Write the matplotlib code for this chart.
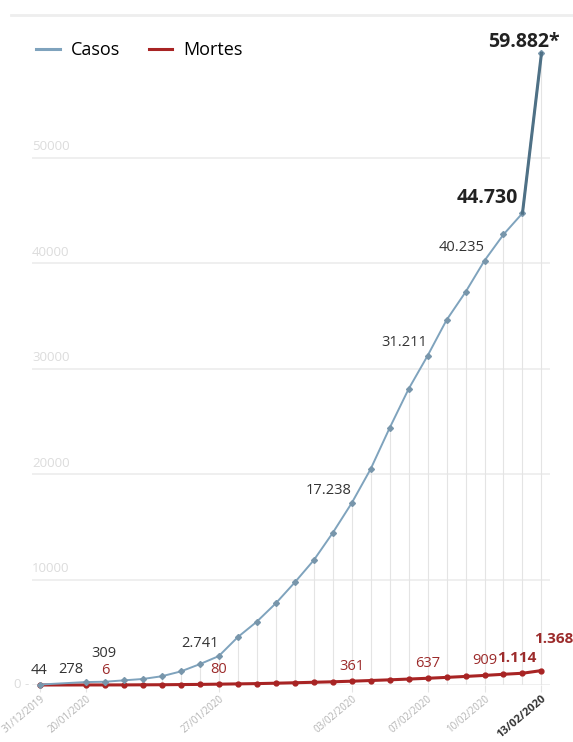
import matplotlib.pyplot as plt
from matplotlib.lines import Line2D
from matplotlib import transforms

plt.rcParams['font.family'] = ['Open Sans', 'DejaVu Sans']

# data
dates = ['31/12/2019', '20/01/2020', '21/01/2020', '22/01/2020', '23/01/2020', '24/01/2020',
         '25/01/2020', '26/01/2020', '27/01/2020', '28/01/2020', '29/01/2020', '30/01/2020',
         '31/01/2020', '01/02/2020', '02/02/2020', '03/02/2020', '04/02/2020', '05/02/2020',
         '06/02/2020', '07/02/2020', '08/02/2020', '09/02/2020', '10/02/2020', '11/02/2020',
         '12/02/2020', '13/02/2020']
casos = [44, 278, 309, 440, 571, 830, 1287, 1975, 2741, 4537, 5997, 7736, 9720, 11821,
         14411, 17238, 20471, 24363, 28060, 31211, 34598, 37251, 40235, 42708, 44730, 59882]
mortes = [0, 6, 6, 9, 17, 25, 41, 56, 80, 106, 132, 170, 213, 259, 304, 361, 425, 490,
          563, 637, 722, 811, 909, 1016, 1114, 1368]
tick_dates = ['31/12/2019', '20/01/2020', '27/01/2020', '03/02/2020', '07/02/2020',
              '10/02/2020', '13/02/2020']
casos_labels = {'31/12/2019': '44', '20/01/2020': '278', '21/01/2020': '309',
                '27/01/2020': '2.741', '03/02/2020': '17.238', '07/02/2020': '31.211',
                '10/02/2020': '40.235', '12/02/2020': '44.730', '13/02/2020': '59.882*'}
mortes_labels = {'21/01/2020': '6', '27/01/2020': '80', '03/02/2020': '361',
                 '07/02/2020': '637', '10/02/2020': '909', '12/02/2020': '1.114',
                 '13/02/2020': '1.368'}

# categorical positions, wider gap after the first point
first_gap = 2.42
pos = [0] + [first_gap + i for i in range(len(dates) - 1)]
idx = {d: i for i, d in enumerate(dates)}

blue = '#7fa3bd'
blue_dark = '#4f7186'
red = '#a82424'
red_txt = '#9c2b2b'

fig = plt.figure(figsize=(5.73, 7.42), dpi=100)
ax = fig.add_axes([32 / 573, 57 / 742, 518 / 573, 654 / 742])
ax.set_xlim(-0.42, 26.87)
ax.set_ylim(0, 62000)

for s in ax.spines.values():
    s.set_visible(False)
ax.set_yticks([0, 10000, 20000, 30000, 40000, 50000])
ax.set_yticklabels([])
ax.tick_params(axis='y', length=0)
ax.yaxis.grid(True, color='#ececec', lw=1.2, zorder=0)
ax.set_axisbelow(True)

# light vertical guides under each case point
ax.vlines(pos, 0, casos, color='#e4e4e4', lw=0.8, zorder=1)

# y labels sitting above the gridlines
tr = transforms.blended_transform_factory(ax.transAxes, ax.transData)
for v in [10000, 20000, 30000, 40000, 50000]:
    ax.annotate(str(v), (0, v), xycoords=tr, xytext=(0, 3), textcoords='offset points',
                ha='left', va='bottom', fontsize=9.5, color='#dcdcdc')
ax.annotate('0 -', (0, 0), xycoords=tr, xytext=(-13, 0), textcoords='offset points',
            ha='left', va='center', fontsize=9.5, color='#dcdcdc')

# lines
ax.plot(pos, mortes, color=red, lw=2.2, marker='o', ms=3.5, mfc=red, mec=red,
        zorder=3, clip_on=False)
ax.plot(pos, casos, color=blue, lw=1.4, marker='D', ms=3, mfc='#7896ab', mec='#7896ab',
        zorder=4, clip_on=False)
ax.plot(pos[-2:], casos[-2:], color=blue_dark, lw=2.2, zorder=4, clip_on=False)

# x ticks
ax.set_xticks([pos[idx[d]] for d in tick_dates])
ax.set_xticklabels(tick_dates, rotation=40, ha='right', rotation_mode='anchor',
                   fontsize=7, color='#b3b3b3')
ax.tick_params(axis='x', length=5, color='#e4e4e4', pad=1)
last = ax.get_xticklabels()[-1]
last.set_color('#333333')
last.set_fontweight('bold')
last.set_fontsize(8)

# case labels
for d, t in casos_labels.items():
    i = idx[d]
    if t == '59.882*':
        ax.annotate(t, (pos[i], casos[i]), xytext=(-13, 1), textcoords='offset points',
                    ha='center', va='bottom', fontsize=14, fontweight='bold', color='#222222')
    elif t == '44.730':
        ax.annotate(t, (pos[i], casos[i]), xytext=(-3, 4), textcoords='offset points',
                    ha='right', va='bottom', fontsize=14, fontweight='bold', color='#222222')
    elif t in ('44', '309'):
        dy = 5 if t == '44' else 15
        ax.annotate(t, (pos[i], casos[i]), xytext=(-1, dy), textcoords='offset points',
                    ha='center', va='bottom', fontsize=10.5, color='#333333')
    elif t == '278':
        ax.annotate(t, (pos[i], casos[i]), xytext=(-11, 3.5), textcoords='offset points',
                    ha='center', va='bottom', fontsize=10.5, color='#333333')
    else:
        ax.annotate(t, (pos[i], casos[i]), xytext=(0, 4), textcoords='offset points',
                    ha='right', va='bottom', fontsize=10.5, color='#333333')

# death labels
for d, t in mortes_labels.items():
    i = idx[d]
    bold = t in ('1.114', '1.368')
    if t == '1.368':
        off = (9, 18)
    elif t == '1.114':
        off = (-4, 6)
    else:
        off = (0, 5)
    ax.annotate(t, (pos[i], mortes[i]), xytext=off, textcoords='offset points',
                ha='center', va='bottom', fontsize=11 if bold else 10.5,
                fontweight='bold' if bold else 'normal', color=red_txt)

# top rule and legend
fig.add_artist(Line2D([11 / 573, 1], [1 - 15 / 742, 1 - 15 / 742],
                      transform=fig.transFigure, color='#eeeeee', lw=2))
handles = [Line2D([], [], color=blue, lw=2.2), Line2D([], [], color=red, lw=2.2)]
fig.legend(handles, ['Casos', 'Mortes'], loc='center left',
           bbox_to_anchor=(20 / 573, 1 - 50 / 742), ncol=2, frameon=False,
           fontsize=13, handlelength=1.3, handletextpad=0.6, columnspacing=1.6)

fig.savefig('out.png', dpi=100)
